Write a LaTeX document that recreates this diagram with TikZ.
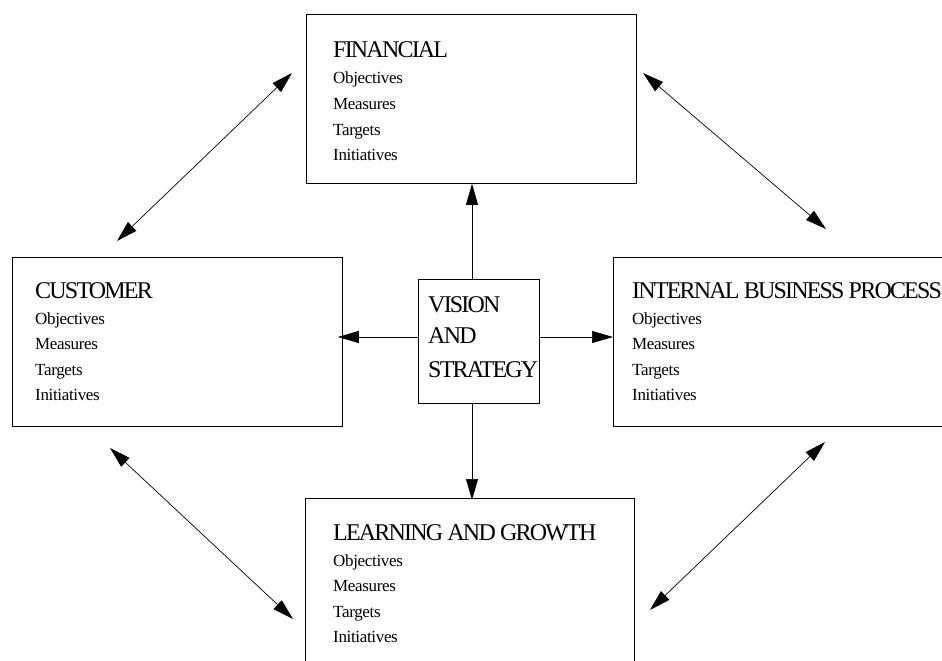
\documentclass[tikz,border=0pt]{standalone}
\usepackage{fontspec}
\setmainfont{Liberation Serif}
\newfontfamily\headfont[LetterSpace=-7.5]{Liberation Serif}
\newfontfamily\itemfont[LetterSpace=-2]{Liberation Serif}
\usetikzlibrary{calc,arrows.meta}

\tikzset{
  panel/.style={draw=black, line width=0.8pt, fill=white, rectangle, inner sep=0pt, anchor=north west},
  heading/.style={inner sep=0pt, anchor=base west, font=\headfont\fontsize{24}{26}\selectfont},
  entry/.style={inner sep=0pt, anchor=base west, font=\itemfont\fontsize{17}{20}\selectfont},
  link/.style={line width=0.7pt, -{Triangle[length=21pt,width=12pt]}},
  twoway/.style={line width=0.7pt, {Triangle[length=21pt,width=12pt]}-{Triangle[length=21pt,width=12pt]}}
}

\begin{document}
\begin{tikzpicture}[x=1pt,y=-1pt]
  \path[use as bounding box] (0,0) rectangle (942,661);
  \clip (0,0) rectangle (942,661);

  % the four perspectives
  \node[panel, minimum width=330, minimum height=169] (fin) at (306,14) {};
  \node[panel, minimum width=330, minimum height=169] (cust) at (12,257) {};
  \node[panel, minimum width=360, minimum height=169] (proc) at (613,257) {};
  \node[panel, minimum width=329, minimum height=200] (learn) at (305,498) {};

  % headings
  \node[heading] (fin-t) at ($(fin.north west)+(27,44)$) {FINANCIAL};
  \node[heading] (cust-t) at ($(cust.north west)+(23,41)$) {CUSTOMER};
  \node[heading] (proc-t) at ($(proc.north west)+(19,41)$) {INTERNAL BUSINESS PROCESS};
  \node[heading] (learn-t) at ($(learn.north west)+(28,42)$) {LEARNING AND GROWTH};

  % the four entries under each heading
  \foreach \p in {fin,cust,proc,learn}{
    \foreach \t [count=\i] in {Objectives,Measures,Targets,Initiatives}{
      \node[entry] (\p-\i) at ($(\p-t.base west)+(0,0.5+25.5*\i)$) {\t};
    }
  }

  % centre box
  \node[panel, minimum width=121, minimum height=124] (vis) at (418,279) {};
  \node[heading] (vis-1) at ($(vis.north west)+(10,33)$) {VISION};
  \node[heading] (vis-2) at ($(vis-1.base west)+(0,31.5)$) {AND};
  \node[heading] (vis-3) at ($(vis-2.base west)+(0,33.5)$) {STRATEGY};

  % axes of the centre connectors
  \coordinate (vx) at (472,0);
  \coordinate (hy) at (0,337);

  \draw[link] (vis.north -| vx) -- (fin.south -| vx);
  \draw[link] (vis.south -| vx) -- ($(learn.north -| vx)+(0,2)$);
  \draw[link] (vis.west |- hy) -- ($(cust.east |- hy)+(-5,0)$);
  \draw[link] (vis.east |- hy) -- (proc.west |- hy);

  % links between neighbouring perspectives
  \coordinate (fc-a) at (292,73);
  \coordinate (fc-b) at (117,241);
  \coordinate (fp-a) at (643,73);
  \coordinate (fp-b) at (826,229);
  \coordinate (cl-a) at (110,448);
  \coordinate (cl-b) at (293,619);
  \coordinate (pl-a) at (825,442);
  \coordinate (pl-b) at (650,610);

  \draw[twoway] (fc-a) -- (fc-b);
  \draw[twoway] (fp-a) -- (fp-b);
  \draw[twoway] (cl-a) -- (cl-b);
  \draw[twoway] (pl-a) -- (pl-b);
\end{tikzpicture}
\end{document}
